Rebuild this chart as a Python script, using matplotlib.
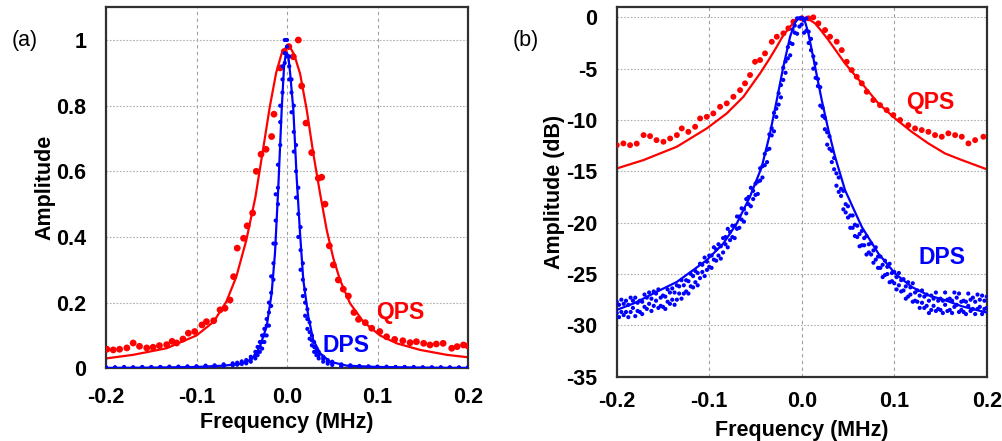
import numpy as np
import matplotlib
matplotlib.use("Agg")
import matplotlib.pyplot as plt

plt.rcParams['font.family'] = ['Liberation Sans', 'DejaVu Sans']
plt.rcParams['axes.unicode_minus'] = False

RED = '#ff0000'
BLUE = '#0000ff'

# ---------- panel (a): linear amplitude ----------
qps_lin_x = [-0.199, -0.192, -0.185, -0.177, -0.170, -0.163, -0.155, -0.148, -0.141, -0.133,
             -0.127, -0.122, -0.115, -0.109, -0.102, -0.094, -0.089, -0.081, -0.074, -0.0685,
             -0.063, -0.059, -0.055, -0.048, -0.044, -0.038, -0.034, -0.0287, -0.0232, -0.017,
             -0.0144, -0.0077, -0.003, 0.002, 0.007, 0.0125, 0.0162, 0.021, 0.0273, 0.0346,
             0.0383, 0.042, 0.0468, 0.0512, 0.0567, 0.0622, 0.0678, 0.074, 0.079, 0.0865,
             0.0936, 0.1025, 0.110, 0.119, 0.128, 0.136, 0.143, 0.151, 0.158, 0.165,
             0.1725, 0.182, 0.188, 0.195, 0.2]
qps_lin_y = [0.058, 0.056, 0.058, 0.062, 0.077, 0.067, 0.062, 0.064, 0.069, 0.072,
             0.082, 0.077, 0.089, 0.107, 0.112, 0.132, 0.142, 0.145, 0.178, 0.183,
             0.208, 0.279, 0.366, 0.396, 0.434, 0.473, 0.600, 0.652, 0.667, 0.706,
             0.774, 0.915, 0.965, 0.980, 0.949, 1.000, 0.860, 0.747, 0.657, 0.579,
             0.582, 0.500, 0.373, 0.315, 0.269, 0.241, 0.220, 0.170, 0.149, 0.139,
             0.122, 0.112, 0.096, 0.088, 0.084, 0.078, 0.081, 0.076, 0.071, 0.074,
             0.076, 0.061, 0.066, 0.071, 0.068]

qps_lin_fit_x = [-0.2, -0.17, -0.133, -0.1, -0.081, -0.067, -0.056, -0.045, -0.035, -0.026,
                 -0.019, -0.012, -0.006, 0.0, 0.004, 0.008, 0.0144, 0.0218, 0.029, 0.0365,
                 0.0439, 0.0512, 0.0586, 0.0696, 0.0843, 0.1028, 0.1212, 0.147, 0.1765, 0.2]
qps_lin_fit_y = [0.030, 0.041, 0.061, 0.100, 0.142, 0.203, 0.279, 0.390, 0.520, 0.675,
                 0.797, 0.900, 0.958, 0.982, 0.975, 0.955, 0.898, 0.787, 0.655, 0.533,
                 0.421, 0.335, 0.269, 0.198, 0.142, 0.100, 0.076, 0.056, 0.041, 0.0335]

dps_lin_x = [-0.20, -0.19, -0.18, -0.17, -0.16, -0.15, -0.14, -0.13, -0.12, -0.11,
             -0.10, -0.09, -0.08, -0.07, -0.06, -0.055, -0.05, -0.045, -0.04, -0.035,
             -0.0325, -0.03, -0.0275, -0.025, -0.0225, -0.02, -0.0175, -0.015, -0.0125, -0.01,
             -0.0075, -0.005, -0.0025, 0.0, 0.0025, 0.005, 0.0075, 0.01, 0.0125, 0.015,
             0.0175, 0.02, 0.0225, 0.025, 0.0275, 0.03, 0.0325, 0.035, 0.04, 0.045,
             0.05, 0.06, 0.07, 0.08, 0.09, 0.10, 0.11, 0.12, 0.13, 0.14,
             0.15, 0.16, 0.17, 0.18, 0.19, 0.20]
dps_lin_y = [[0.000, 0.002, 0.003], [0.001, 0.002, 0.003], [0.000, 0.002, 0.004], [0.001, 0.002, 0.003],
             [0.001, 0.003, 0.004], [0.001, 0.002, 0.004], [0.002, 0.003, 0.004], [0.002, 0.003, 0.005],
             [0.002, 0.004, 0.005], [0.003, 0.004, 0.006], [0.003, 0.005, 0.006], [0.004, 0.006, 0.008],
             [0.005, 0.007, 0.009], [0.007, 0.009, 0.012], [0.009, 0.012, 0.015], [0.011, 0.014, 0.017],
             [0.013, 0.017, 0.021], [0.015, 0.020, 0.025], [0.020, 0.028, 0.035], [0.030, 0.040, 0.050],
             [0.040, 0.050, 0.065], [0.050, 0.065, 0.080], [0.060, 0.080, 0.100], [0.080, 0.100, 0.120],
             [0.100, 0.130, 0.150], [0.130, 0.170, 0.200], [0.190, 0.230, 0.280], [0.270, 0.320, 0.380],
             [0.380, 0.450, 0.530], [0.500, 0.550, 0.620], [0.680, 0.750, 0.800], [0.840, 0.880, 0.920],
             [0.930, 0.960, 1.000], [0.950, 0.980, 1.000], [0.880, 0.920, 0.950], [0.780, 0.840, 0.880],
             [0.660, 0.720, 0.800], [0.520, 0.600, 0.680], [0.400, 0.470, 0.550], [0.300, 0.360, 0.430],
             [0.220, 0.270, 0.320], [0.160, 0.200, 0.240], [0.120, 0.150, 0.180], [0.090, 0.110, 0.140],
             [0.070, 0.085, 0.100], [0.050, 0.065, 0.080], [0.040, 0.050, 0.060], [0.030, 0.040, 0.050],
             [0.020, 0.028, 0.035], [0.014, 0.020, 0.025], [0.010, 0.015, 0.020], [0.007, 0.009, 0.012],
             [0.005, 0.007, 0.009], [0.004, 0.005, 0.007], [0.003, 0.004, 0.006], [0.002, 0.004, 0.005],
             [0.002, 0.003, 0.005], [0.002, 0.003, 0.004], [0.001, 0.003, 0.004], [0.001, 0.002, 0.004],
             [0.001, 0.002, 0.003], [0.001, 0.002, 0.003], [0.000, 0.002, 0.003], [0.001, 0.002, 0.003],
             [0.000, 0.001, 0.003], [0.001, 0.002, 0.003]]

dps_lin_fit_x = [-0.2, -0.15, -0.1, -0.07, -0.05, -0.041, -0.035, -0.03, -0.0225, -0.017,
                 -0.0133, -0.0096, -0.0059, -0.0033, -0.0015, 0.0, 0.0015, 0.0035, 0.007, 0.0107,
                 0.0144, 0.018, 0.0236, 0.029, 0.0365, 0.0475, 0.066, 0.1, 0.15, 0.2]
dps_lin_fit_y = [0.001, 0.002, 0.004, 0.008, 0.014, 0.025, 0.040, 0.066, 0.127, 0.228,
                 0.350, 0.553, 0.787, 0.919, 0.955, 0.960, 0.950, 0.898, 0.787, 0.580,
                 0.411, 0.269, 0.157, 0.086, 0.046, 0.020, 0.008, 0.004, 0.002, 0.001]

# ---------- panel (b): dB ----------
qps_db_x = [-0.2, -0.1928, -0.1856, -0.1784, -0.171, -0.164, -0.157, -0.1495, -0.1423, -0.135,
            -0.1297, -0.1226, -0.1153, -0.1099, -0.1027, -0.0956, -0.0883, -0.0811, -0.0739, -0.0667,
            -0.0613, -0.0559, -0.0505, -0.0451, -0.0397, -0.0324, -0.027, -0.0198, -0.0145, -0.009,
            0.0, 0.0072, 0.0125, 0.018, 0.0252, 0.0306, 0.0378, 0.0432, 0.0486, 0.054,
            0.0595, 0.0649, 0.0703, 0.0774, 0.0846, 0.0919, 0.099, 0.1063, 0.1152, 0.1225,
            0.1297, 0.1369, 0.1441, 0.1514, 0.1585, 0.1658, 0.173, 0.1802, 0.1874, 0.1964]
qps_db_y = [-12.45, -12.28, -12.45, -12.30, -11.47, -11.57, -11.96, -12.12, -11.80, -11.47,
            -10.82, -11.15, -10.66, -9.85, -9.69, -9.36, -8.71, -8.38, -7.74, -7.09,
            -6.43, -5.62, -4.33, -4.16, -3.51, -2.38, -1.89, -1.56, -1.07, -0.43,
            -0.10, -0.10, 0.0, -0.59, -1.24, -1.89, -2.37, -3.19, -4.33, -5.14,
            -5.79, -6.43, -7.25, -8.06, -8.55, -9.04, -9.52, -10.00, -10.50, -10.82,
            -10.98, -11.15, -11.47, -11.63, -11.30, -11.47, -11.63, -12.28, -11.96, -11.63]

qps_db_fit_x = [-0.2, -0.171, -0.135, -0.1027, -0.0811, -0.0631, -0.0451, -0.035, -0.027, -0.02,
                -0.0126, -0.0054, 0.0, 0.007, 0.0144, 0.021, 0.0288, 0.0468, 0.0649, 0.0828,
                0.1009, 0.1189, 0.1369, 0.1549, 0.173, 0.2]
qps_db_fit_y = [-14.72, -13.90, -12.60, -10.82, -9.36, -7.74, -5.46, -4.05, -2.86, -1.75,
                -0.91, -0.20, 0.0, -0.15, -0.59, -1.30, -2.21, -4.49, -6.43, -8.38,
                -9.85, -11.15, -12.28, -13.26, -13.90, -14.80]

dps_db_x = [-0.2000, -0.1975, -0.1950, -0.1925, -0.1900, -0.1875, -0.1850, -0.1825, -0.1800, -0.1775,
            -0.1750, -0.1725, -0.1700, -0.1675, -0.1650, -0.1625, -0.1600, -0.1575, -0.1550, -0.1525,
            -0.1500, -0.1475, -0.1450, -0.1425, -0.1400, -0.1375, -0.1350, -0.1325, -0.1300, -0.1275,
            -0.1250, -0.1225, -0.1200, -0.1175, -0.1150, -0.1125, -0.1100, -0.1075, -0.1050, -0.1025,
            -0.1000, -0.0975, -0.0950, -0.0925, -0.0900, -0.0875, -0.0850, -0.0825, -0.0800, -0.0775,
            -0.0750, -0.0725, -0.0700, -0.0675, -0.0650, -0.0625, -0.0600, -0.0575, -0.0550, -0.0525,
            -0.0500, -0.0475, -0.0450, -0.0425, -0.0400, -0.0375, -0.0350, -0.0325, -0.0300, -0.0275,
            -0.0250, -0.0225, -0.0200, -0.0175, -0.0150, -0.0125, -0.0100, -0.0075, -0.0050, -0.0025,
            0.0000, 0.0025, 0.0050, 0.0075, 0.0100, 0.0125, 0.0150, 0.0175, 0.0200, 0.0225,
            0.0250, 0.0275, 0.0300, 0.0325, 0.0350, 0.0375, 0.0400, 0.0425, 0.0450, 0.0475,
            0.0500, 0.0525, 0.0550, 0.0575, 0.0600, 0.0625, 0.0650, 0.0675, 0.0700, 0.0725,
            0.0750, 0.0775, 0.0800, 0.0825, 0.0850, 0.0875, 0.0900, 0.0925, 0.0950, 0.0975,
            0.1000, 0.1025, 0.1050, 0.1075, 0.1100, 0.1125, 0.1150, 0.1175, 0.1200, 0.1225,
            0.1250, 0.1275, 0.1300, 0.1325, 0.1350, 0.1375, 0.1400, 0.1425, 0.1450, 0.1475,
            0.1500, 0.1525, 0.1550, 0.1575, 0.1600, 0.1625, 0.1650, 0.1675, 0.1700, 0.1725,
            0.1750, 0.1775, 0.1800, 0.1825, 0.1850, 0.1875, 0.1900, 0.1925, 0.1950, 0.1975,
            0.2000]
# upper and lower scatter of the DPS samples, same frequencies as dps_db_x
dps_db_hi = [-27.7, -28.0, -27.5, -27.9, -27.6, -28.0, -27.3, -27.6, -27.3, -27.8,
             -27.6, -27.7, -27.0, -27.3, -26.8, -27.4, -26.7, -26.9, -26.5, -27.3,
             -27.1, -27.2, -26.5, -26.8, -26.4, -26.8, -26.1, -26.2, -25.6, -26.1,
             -25.6, -25.7, -25.0, -25.2, -24.7, -24.9, -24.0, -24.1, -23.4, -23.8,
             -23.2, -23.2, -22.4, -22.6, -22.1, -22.3, -21.5, -21.4, -20.6, -20.9,
             -20.3, -20.3, -19.4, -19.4, -18.6, -18.7, -17.7, -17.5, -16.6, -16.9,
             -16.2, -16.0, -14.7, -14.5, -13.3, -12.9, -11.4, -10.8, -9.3, -8.9,
             -7.4, -6.6, -4.9, -4.3, -2.9, -2.5, -1.2, -0.8, -0.1, -0.1,
             -0.05, -0.3, -0.1, -1.4, -2.1, -3.8, -4.5, -6.0, -6.8, -8.8,
             -9.8, -11.2, -11.6, -13.0, -13.7, -15.2, -15.6, -16.7, -16.9, -18.2,
             -18.4, -19.3, -19.3, -20.2, -20.3, -21.1, -20.8, -21.5, -21.3, -22.1,
             -22.0, -22.7, -22.4, -23.3, -23.3, -24.1, -23.7, -24.3, -24.0, -24.9,
             -24.8, -25.3, -24.9, -25.6, -25.5, -26.2, -25.8, -26.3, -25.9, -26.8,
             -26.6, -27.1, -26.6, -27.2, -27.0, -27.6, -27.1, -27.4, -26.8, -27.6,
             -27.4, -27.6, -26.8, -27.5, -27.4, -27.6, -26.8, -27.3, -26.9, -27.7,
             -27.6, -27.7, -26.9, -27.5, -27.3, -27.7, -27.0, -27.5, -27.1, -27.6,
             -27.2]
dps_db_lo = [-28.8, -29.2, -28.7, -29.0, -28.7, -29.2, -28.7, -28.3, -29.1, -28.6,
             -28.7, -28.9, -28.2, -28.4, -27.9, -28.6, -28.1, -27.6, -28.3, -28.1,
             -28.2, -28.4, -27.7, -27.9, -27.5, -28.0, -27.5, -26.9, -27.4, -26.9,
             -26.7, -26.9, -26.2, -26.3, -25.8, -26.1, -25.4, -24.8, -25.2, -24.6,
             -24.3, -24.4, -23.6, -23.7, -23.2, -23.5, -22.9, -22.1, -22.4, -21.7,
             -21.4, -21.5, -20.6, -20.5, -19.7, -19.9, -19.1, -18.2, -18.4, -17.7,
             -17.3, -17.2, -15.9, -15.6, -14.4, -14.1, -12.8, -11.5, -11.1, -9.7,
             -8.5, -7.8, -6.1, -5.4, -4.0, -3.7, -2.6, -1.5, -1.6, -0.9,
             -0.7, -1.5, -1.3, -2.5, -3.2, -5.0, -5.9, -6.7, -8.6, -9.6,
             -10.9, -12.4, -12.8, -14.1, -14.8, -16.4, -17.0, -17.4, -18.7, -19.0,
             -19.5, -20.5, -20.5, -21.3, -21.4, -22.3, -22.2, -22.2, -23.1, -22.9,
             -23.1, -23.9, -23.6, -24.4, -24.4, -25.3, -25.1, -25.0, -25.8, -25.7,
             -25.9, -26.5, -26.1, -26.7, -26.6, -27.4, -27.2, -27.0, -27.7, -27.6,
             -27.7, -28.3, -27.8, -28.3, -28.1, -28.8, -28.5, -28.1, -28.6, -28.4,
             -28.5, -28.8, -28.0, -28.6, -28.5, -28.8, -28.2, -28.0, -28.7, -28.5,
             -28.7, -28.9, -28.1, -28.6, -28.4, -28.9, -28.4, -28.2, -28.9, -28.4,
             -28.3]

dps_db_fit_x = [-0.2, -0.18, -0.157, -0.135, -0.1027, -0.0848, -0.0703, -0.056, -0.0432, -0.0343,
                -0.027, -0.0199, -0.0126, -0.0072, -0.003, 0.0, 0.0035, 0.0072, 0.0144, 0.0216,
                0.0288, 0.036, 0.0468, 0.0649, 0.0828, 0.1009, 0.1189, 0.1369, 0.1549, 0.173, 0.2]
dps_db_fit_y = [-28.50, -27.80, -26.74, -25.77, -23.65, -22.03, -20.08, -17.48, -14.56, -11.30,
                -8.06, -4.81, -1.89, -0.50, -0.05, 0.0, -0.40, -1.56, -4.81, -8.06,
                -10.98, -13.58, -16.83, -20.41, -23.00, -24.95, -26.26, -27.07, -27.55, -28.14, -28.75]

x_ticks = [-0.2, -0.1, 0.0, 0.1, 0.2]
x_tick_labels = ['-0.2', '-0.1', '0.0', '0.1', '0.2']
lin_ticks = [0, 0.2, 0.4, 0.6, 0.8, 1.0]
lin_tick_labels = ['0', '0.2', '0.4', '0.6', '0.8', '1']
db_ticks = [0, -5, -10, -15, -20, -25, -30, -35]
db_tick_labels = ['0', '-5', '-10', '-15', '-20', '-25', '-30', '-35']

FS = 15.5


def style_axes(ax, yticks, ylabels, xpad, xlabelpad, ylabel):
    ax.set_xlim(-0.2, 0.2)
    ax.set_xticks(x_ticks)
    ax.set_xticklabels(x_tick_labels, fontsize=FS, fontweight='bold')
    ax.set_yticks(yticks)
    ax.set_yticklabels(ylabels, fontsize=FS, fontweight='bold')
    ax.tick_params(axis='x', length=0, pad=xpad)
    ax.tick_params(axis='y', length=0, pad=14)
    ax.xaxis.grid(True, color='#a0a0a0', linestyle=(0, (3, 3)), linewidth=0.8)
    ax.yaxis.grid(True, color='#b0b0b0', linestyle=(0, (1.5, 1.5)), linewidth=0.8)
    ax.set_axisbelow(True)
    for sp in ax.spines.values():
        sp.set_color('#303030')
        sp.set_linewidth(1.6)
    ax.set_xlabel('Frequency (MHz)', fontsize=FS, fontweight='bold', labelpad=xlabelpad)
    ax.set_ylabel(ylabel, fontsize=FS, fontweight='bold', labelpad=1)


fig = plt.figure(figsize=(10.03, 4.41), dpi=100)

# (a)
ax1 = fig.add_axes([0.1057, 0.1649, 0.3609, 0.8188])
ax1.plot(qps_lin_fit_x, qps_lin_fit_y, color=RED, lw=1.6, zorder=2)
ax1.scatter(qps_lin_x, qps_lin_y, s=24, color=RED, edgecolors='none', zorder=3)
ax1.plot(dps_lin_fit_x, dps_lin_fit_y, color=BLUE, lw=1.6, zorder=4)
ax1.scatter(np.repeat(dps_lin_x, 3), np.ravel(dps_lin_y), s=9, color=BLUE,
            edgecolors='none', zorder=5)
ax1.set_ylim(0, 1.1)
style_axes(ax1, lin_ticks, lin_tick_labels, 13.5, 2.5, 'Amplitude')
ax1.text(0.0983, 0.171, 'QPS', color=RED, fontsize=16.5, fontweight='bold', va='center', ha='left', zorder=6)
ax1.text(0.0394, 0.070, 'DPS', color=BLUE, fontsize=16.5, fontweight='bold', va='center', ha='left', zorder=6)
fig.text(0.012, 0.909, '(a)', fontsize=FS, va='center', ha='left')

# (b)
ax2 = fig.add_axes([0.6149, 0.1458, 0.3689, 0.8382])
ax2.plot(qps_db_fit_x, qps_db_fit_y, color=RED, lw=1.6, zorder=2)
ax2.scatter(qps_db_x, qps_db_y, s=18, color=RED, edgecolors='none', zorder=3)
ax2.plot(dps_db_fit_x, dps_db_fit_y, color=BLUE, lw=1.6, zorder=4)
ax2.scatter(dps_db_x, dps_db_hi, s=9, color=BLUE, edgecolors='none', zorder=5)
ax2.scatter(dps_db_x, dps_db_lo, s=9, color=BLUE, edgecolors='none', zorder=5)
ax2.set_ylim(-35, 1)
style_axes(ax2, db_ticks, db_tick_labels, 10.5, 5.5, 'Amplitude (dB)')
ax2.text(0.1128, -8.26, 'QPS', color=RED, fontsize=16.5, fontweight='bold', va='center', ha='left', zorder=6)
ax2.text(0.126, -23.38, 'DPS', color=BLUE, fontsize=16.5, fontweight='bold', va='center', ha='left', zorder=6)
fig.text(0.511, 0.909, '(b)', fontsize=FS, va='center', ha='left')

fig.savefig('out.png', dpi=100, facecolor='white')
